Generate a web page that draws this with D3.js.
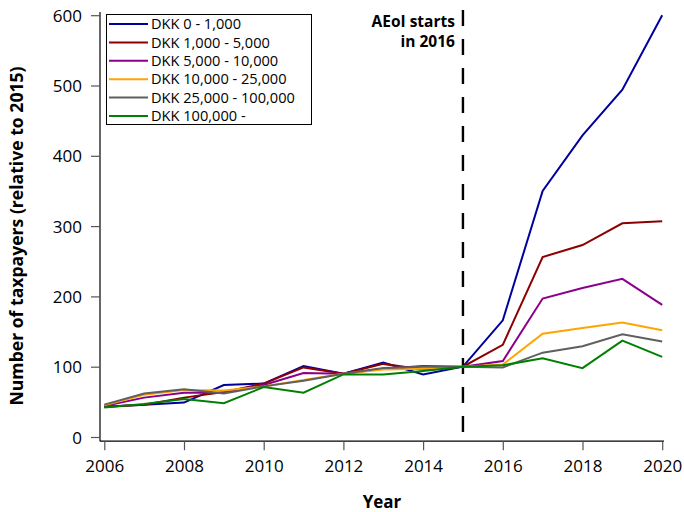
<!DOCTYPE html>
<html>
<head>
<meta charset="utf-8">
<script src="https://cdn.jsdelivr.net/npm/d3@7"></script>
<style>
  html, body { margin: 0; padding: 0; background: #fff; }
  svg { display: block; font-family: "Open Sans", "Noto Sans", sans-serif; }
</style>
</head>
<body>
<svg id="chart" width="684" height="512"></svg>
<script>
// Taxpayer counts by deposit bracket, indexed to 2015 = 100
const years = [2006, 2007, 2008, 2009, 2010, 2011, 2012, 2013, 2014, 2015, 2016, 2017, 2018, 2019, 2020];

const seriesNames = [
  "DKK 0 - 1,000",
  "DKK 1,000 - 5,000",
  "DKK 5,000 - 10,000",
  "DKK 10,000 - 25,000",
  "DKK 25,000 - 100,000",
  "DKK 100,000 -"
];
const seriesColors = ["#00009c", "#8b0000", "#8b008b", "#ffa500", "#5f5f5f", "#008000"];

const dkk0to1k     = [43, 46, 49, 74, 76, 101, 90, 106, 89, 100, 166, 350, 429, 494, 600];
const dkk1kto5k    = [43, 46, 56, 64, 76, 99, 90, 104, 96, 100, 131, 256, 273, 304, 307];
const dkk5kto10k   = [44, 56, 63, 63, 74, 91, 90, 97, 101, 100, 108, 197, 212, 225, 188];
const dkk10kto25k  = [45, 60, 67, 66, 72, 81, 90, 96, 97, 100, 103, 147, 155, 163, 152];
const dkk25kto100k = [46, 62, 68, 62, 72, 80, 90, 98, 100, 100, 99, 120, 129, 146, 136];
const dkk100kPlus  = [42, 47, 54, 48, 71, 63, 89, 89, 94, 100, 102, 112, 98, 137, 114];

const seriesValues = [dkk0to1k, dkk1kto5k, dkk5kto10k, dkk10kto25k, dkk25kto100k, dkk100kPlus];

const yTicks = [0, 100, 200, 300, 400, 500, 600];
const xTicks = [2006, 2008, 2010, 2012, 2014, 2016, 2018, 2020];
const eventYear = 2015;
const eventLabel = ["AEoI starts", "in 2016"];

const svg = d3.select("#chart");

const x = d3.scaleLinear().domain([2006, 2020]).range([104.3, 662.2]);
const y = d3.scaleLinear().domain([0, 600]).range([437, 15.2]);

// Axes
const yAxis = svg.append("g")
  .attr("transform", "translate(100,0)")
  .call(d3.axisLeft(y).tickValues(yTicks).tickSize(9).tickPadding(9).tickFormat(d3.format("d")));
yAxis.select(".domain").attr("d", "M0,12V441.2").attr("stroke", "#000").attr("stroke-width", 1.2);

const xAxis = svg.append("g")
  .attr("transform", "translate(0,441.2)")
  .call(d3.axisBottom(x).tickValues(xTicks).tickSize(9).tickPadding(10).tickFormat(d3.format("d")));
xAxis.select(".domain").attr("d", "M100,0H664").attr("stroke", "#000").attr("stroke-width", 1.2);

svg.selectAll(".tick line").attr("stroke", "#555").attr("stroke-width", 1.2);
svg.selectAll(".tick text")
  .attr("fill", "#000")
  .style("font-size", "17px")
  .style("font-family", "'Open Sans', 'Noto Sans', sans-serif");
yAxis.selectAll(".tick text").attr("dy", "0.36em");

// Axis titles
svg.append("text")
  .attr("x", 382).attr("y", 508)
  .attr("text-anchor", "middle")
  .style("font-size", "17px").style("font-weight", "bold")
  .text("Year");

svg.append("text")
  .attr("transform", "translate(22.5,236) rotate(-90)")
  .attr("text-anchor", "middle")
  .style("font-size", "17.6px").style("font-weight", "bold")
  .text("Number of taxpayers (relative to 2015)");

// Event marker
svg.append("line")
  .attr("x1", x(eventYear)).attr("x2", x(eventYear))
  .attr("y1", 10).attr("y2", 441)
  .attr("stroke", "#000").attr("stroke-width", 2.4)
  .attr("stroke-dasharray", "16,13");

svg.append("text")
  .attr("y", 27)
  .attr("text-anchor", "end")
  .style("font-size", "15.5px").style("font-weight", "bold")
  .selectAll("tspan").data(eventLabel).join("tspan")
  .attr("x", x(eventYear) - 8)
  .attr("dy", (d, i) => i === 0 ? 0 : 20)
  .text(d => d);

// Series lines
const line = d3.line().x((d, i) => x(years[i])).y(d => y(d));
svg.append("g").selectAll("path")
  .data(seriesValues)
  .join("path")
  .attr("d", d => line(d))
  .attr("fill", "none")
  .attr("stroke", (d, i) => seriesColors[i])
  .attr("stroke-width", 2)
  .attr("stroke-linejoin", "miter");

// Legend
const legend = svg.append("g");
legend.append("rect")
  .attr("x", 106.5).attr("y", 14.5)
  .attr("width", 205).attr("height", 110)
  .attr("fill", "#fff").attr("stroke", "#000").attr("stroke-width", 1);

const rows = legend.selectAll("g.row").data(seriesNames).join("g")
  .attr("class", "row")
  .attr("transform", (d, i) => `translate(0,${24 + i * 18.4})`);
rows.append("line")
  .attr("x1", 109).attr("x2", 148)
  .attr("stroke", (d, i) => seriesColors[i]).attr("stroke-width", 2);
rows.append("text")
  .attr("x", 151).attr("dy", "0.36em")
  .style("font-size", "14.6px")
  .text(d => d);
</script>
</body>
</html>
